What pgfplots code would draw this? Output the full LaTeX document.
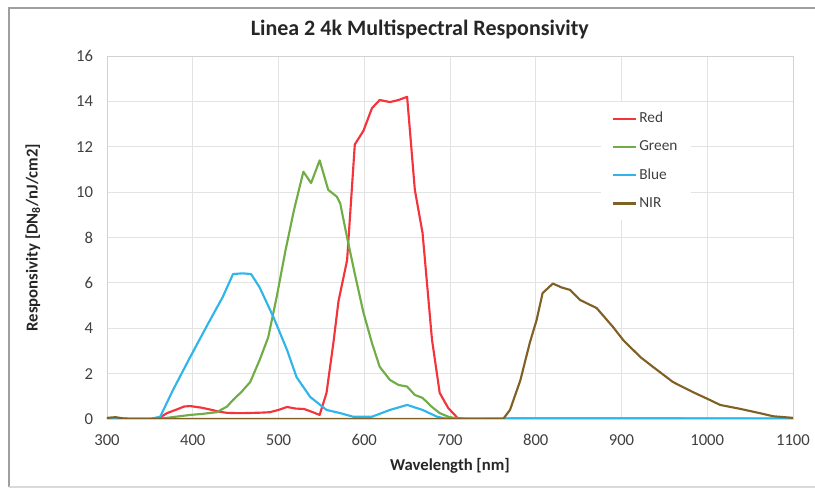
\documentclass[border=0pt]{standalone}
\usepackage{fontspec}
\setmainfont{Carlito}
\usepackage{pgfplots}
\pgfplotsset{compat=1.18}

\definecolor{cRed}{HTML}{F4333A}
\definecolor{cGreen}{HTML}{70AD47}
\definecolor{cBlue}{HTML}{2FB5EA}
\definecolor{cNIR}{HTML}{7F6125}
\definecolor{txt}{HTML}{404040}

\begin{document}
\begin{tikzpicture}
\begin{axis}[
    at={(0,0)}, anchor=south west,
    scale only axis,
    width=514.5pt, height=272.25pt,
    xmin=300, xmax=1100, ymin=0, ymax=16,
    xtick={300,400,...,1100},
    ytick={0,2,...,16},
    major tick length=0pt,
    grid=major,
    grid style={draw=gray!22, line width=0.6pt},
    axis line style={draw=gray!35},
    /pgf/number format/assume math mode=true,
    /pgf/number format/1000 sep={},
    tick label style={font=\fontsize{12.5}{14}\selectfont, text=txt},
    yticklabel style={xshift=-7pt},
    xticklabel style={yshift=-8pt},
    title={Linea 2 4k Multispectral Responsivity},
    title style={font=\fontsize{16.5}{19}\selectfont\bfseries, text=black!85,
        at={(axis description cs:0.456,1.05)}, anchor=center},
    xlabel={Wavelength [nm]},
    xlabel style={font=\fontsize{12.5}{14}\selectfont\bfseries, text=black!85,
        at={(axis description cs:0.5,-0.13)}, anchor=center},
    ylabel={Responsivity [DN\textsubscript{8}/nJ/cm2]},
    ylabel style={font=\fontsize{12.5}{14}\selectfont\bfseries, text=black!85,
        at={(axis description cs:-0.108,0.5)}, anchor=center},
    legend style={at={(axis description cs:0.72,0.875)}, anchor=north west,
        draw=none, fill=white, font=\fontsize{11.5}{13}\selectfont, text=txt,
        row sep=8pt, inner xsep=8pt, inner ysep=6pt},
    legend cell align=left,
    legend image code/.code={\draw[#1] (0pt,0pt) -- (17pt,0pt);},
    every axis plot/.append style={line width=1.6pt, line join=round},
]
\addplot[cRed] coordinates {
(300,0)(350,0)(360,0.02)(370,0.26)(380,0.4)(390,0.55)(397,0.57)(410,0.5)
(420,0.42)(430,0.33)(440,0.27)(450,0.26)(460,0.26)(470,0.27)(480,0.28)
(490,0.3)(500,0.4)(510,0.53)(520,0.46)(530,0.44)(540,0.3)(548,0.18)
(556,1.15)(564,3.35)(570,5.2)(580,7.0)(589,12.1)(599,12.7)(609,13.7)
(618,14.06)(630,13.97)(640,14.06)(650,14.2)(659,10.1)(668,8.2)(679,3.5)
(688,1.15)(698,0.48)(709,0.04)(720,0)(1100,0)
};
\addplot[cGreen] coordinates {
(300,0)(360,0)(380,0.1)(397,0.18)(410,0.22)(428,0.3)(440,0.55)(447,0.84)
(457,1.2)(467,1.63)(478,2.6)(488,3.6)(498,5.4)(508,7.4)(518,9.2)(529,10.9)
(538,10.4)(548,11.4)(558,10.1)(568,9.8)(572,9.5)(580,8.0)(589,6.4)(599,4.7)
(609,3.35)(618,2.3)(630,1.72)(640,1.5)(650,1.43)(659,1.06)(668,0.93)
(679,0.53)(688,0.26)(698,0.1)(708,0.02)(720,0)(800,0.03)(900,0.03)(1100,0)
};
\addplot[cBlue] coordinates {
(300,0)(350,0)(362,0.1)(377,1.28)(397,2.73)(417,4.14)(435,5.38)(447,6.39)
(458,6.42)(468,6.39)(478,5.8)(494,4.5)(510,3.04)(521,1.85)(537,0.97)
(556,0.4)(572,0.26)(587,0.1)(609,0.1)(630,0.4)(650,0.62)(668,0.4)(685,0.1)
(695,0.02)(1100,0.02)
};
\addplot[cNIR] coordinates {
(300,0.05)(310,0.08)(320,0.02)(400,0)(762,0)(770,0.4)(782,1.7)(793,3.35)
(801,4.36)(808,5.55)(820,5.97)(830,5.8)(840,5.69)(852,5.24)(871,4.89)
(890,4.06)(902,3.48)(922,2.73)(937,2.29)(960,1.63)(983,1.19)(1003,0.84)
(1015,0.62)(1038,0.45)(1061,0.26)(1077,0.12)(1100,0.05)
};
\legend{Red,Green,Blue,NIR}
\end{axis}
\draw[gray!75, line width=1.2pt] (531pt,308.25pt) -- (-73.5pt,308.25pt) -- (-73.5pt,-51pt);
\draw[gray!30, line width=0.8pt] (-73.5pt,-51pt) -- (531pt,-51pt);
\pgfresetboundingbox
\path[use as bounding box] (-80.25pt,-52.5pt) rectangle (531pt,314.25pt);
\end{tikzpicture}
\end{document}
